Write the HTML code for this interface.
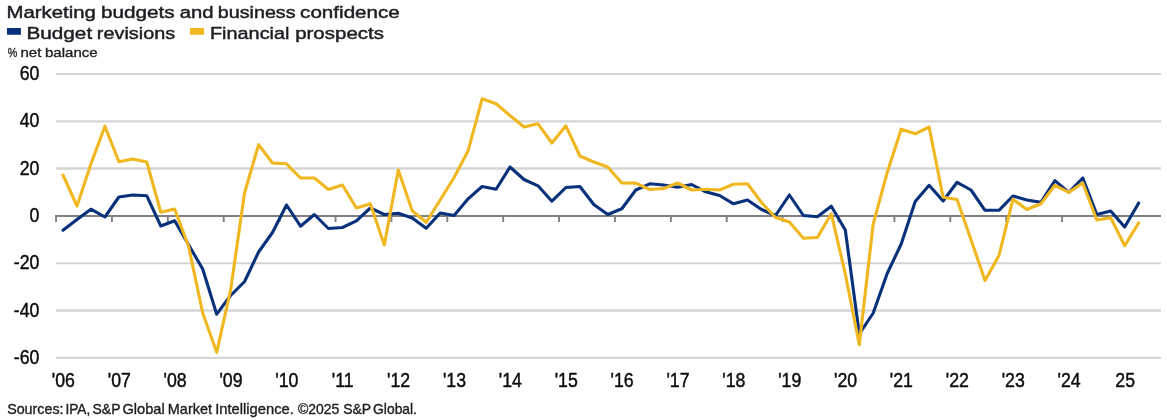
<!DOCTYPE html>
<html><head><meta charset="utf-8"><title>Marketing budgets and business confidence</title>
<style>
html,body{margin:0;padding:0;background:#fff;}
body{width:1167px;height:420px;overflow:hidden;}
svg{display:block;}
text{font-family:"Liberation Sans",Arial,sans-serif;fill:#1d1d22;}
.ax{font-size:20.9px;fill:#0c0c0c;stroke:#0c0c0c;stroke-width:0.45px;}
.t{stroke:#1d1d22;stroke-width:0.45px;}
</style></head><body>
<svg width="1167" height="420" viewBox="0 0 1167 420">
<rect width="1167" height="420" fill="#fff"/>

<line x1="56" x2="1161" y1="74.0" y2="74.0" stroke="#d5d5d5" stroke-width="2.0"/>
<line x1="56" x2="1161" y1="121.3" y2="121.3" stroke="#d5d5d5" stroke-width="2.3"/>
<line x1="56" x2="1161" y1="168.6" y2="168.6" stroke="#d5d5d5" stroke-width="2.5"/>
<line x1="56" x2="1161" y1="263.2" y2="263.2" stroke="#d5d5d5" stroke-width="2.1"/>
<line x1="56" x2="1161" y1="310.5" y2="310.5" stroke="#d5d5d5" stroke-width="2.4"/>
<line x1="56" x2="1161" y1="357.9" y2="357.9" stroke="#d5d5d5" stroke-width="2.1"/>
<line x1="55" x2="1161" y1="216.0" y2="216.0" stroke="#7f7f7f" stroke-width="1.9"/>
<line x1="56.06" x2="56.06" y1="216.0" y2="222.0" stroke="#7f7f7f" stroke-width="1.9"/>
<line x1="111.95" x2="111.95" y1="216.0" y2="222.0" stroke="#7f7f7f" stroke-width="1.9"/>
<line x1="167.84" x2="167.84" y1="216.0" y2="222.0" stroke="#7f7f7f" stroke-width="1.9"/>
<line x1="223.73" x2="223.73" y1="216.0" y2="222.0" stroke="#7f7f7f" stroke-width="1.9"/>
<line x1="279.62" x2="279.62" y1="216.0" y2="222.0" stroke="#7f7f7f" stroke-width="1.9"/>
<line x1="335.51" x2="335.51" y1="216.0" y2="222.0" stroke="#7f7f7f" stroke-width="1.9"/>
<line x1="391.40" x2="391.40" y1="216.0" y2="222.0" stroke="#7f7f7f" stroke-width="1.9"/>
<line x1="447.29" x2="447.29" y1="216.0" y2="222.0" stroke="#7f7f7f" stroke-width="1.9"/>
<line x1="503.18" x2="503.18" y1="216.0" y2="222.0" stroke="#7f7f7f" stroke-width="1.9"/>
<line x1="559.07" x2="559.07" y1="216.0" y2="222.0" stroke="#7f7f7f" stroke-width="1.9"/>
<line x1="614.96" x2="614.96" y1="216.0" y2="222.0" stroke="#7f7f7f" stroke-width="1.9"/>
<line x1="670.85" x2="670.85" y1="216.0" y2="222.0" stroke="#7f7f7f" stroke-width="1.9"/>
<line x1="726.74" x2="726.74" y1="216.0" y2="222.0" stroke="#7f7f7f" stroke-width="1.9"/>
<line x1="782.63" x2="782.63" y1="216.0" y2="222.0" stroke="#7f7f7f" stroke-width="1.9"/>
<line x1="838.52" x2="838.52" y1="216.0" y2="222.0" stroke="#7f7f7f" stroke-width="1.9"/>
<line x1="894.41" x2="894.41" y1="216.0" y2="222.0" stroke="#7f7f7f" stroke-width="1.9"/>
<line x1="950.30" x2="950.30" y1="216.0" y2="222.0" stroke="#7f7f7f" stroke-width="1.9"/>
<line x1="1006.19" x2="1006.19" y1="216.0" y2="222.0" stroke="#7f7f7f" stroke-width="1.9"/>
<line x1="1062.08" x2="1062.08" y1="216.0" y2="222.0" stroke="#7f7f7f" stroke-width="1.9"/>
<line x1="1117.97" x2="1117.97" y1="216.0" y2="222.0" stroke="#7f7f7f" stroke-width="1.9"/>
<polyline fill="none" stroke="#07317a" stroke-width="3.1" stroke-linejoin="round" stroke-linecap="round" points="63.0,230.2 77.0,219.5 90.9,209.2 104.9,217.0 118.9,197.0 132.8,195.0 146.8,195.8 160.8,226.0 174.7,220.8 188.7,245.0 202.7,269.0 216.7,314.2 230.6,295.5 244.6,281.5 258.6,252.0 272.5,232.5 286.5,205.0 300.5,226.2 314.4,214.5 328.4,228.5 342.4,227.5 356.4,220.8 370.3,208.0 384.3,214.5 398.3,213.2 412.2,218.0 426.2,228.2 440.2,213.0 454.1,215.5 468.1,198.8 482.1,186.5 496.1,189.2 510.0,167.0 524.0,179.5 538.0,185.8 551.9,201.2 565.9,187.5 579.9,186.5 593.8,204.5 607.8,214.5 621.8,208.8 635.8,190.0 649.7,183.8 663.7,185.0 677.7,187.2 691.6,184.5 705.6,191.8 719.6,195.5 733.5,203.8 747.5,200.0 761.5,209.5 775.5,215.5 789.4,195.0 803.4,215.5 817.4,216.8 831.3,206.2 845.3,230.0 859.3,334.0 873.2,313.0 887.2,273.5 901.2,244.0 915.2,201.5 929.1,185.3 943.1,201.0 957.1,182.3 971.0,190.0 985.0,210.3 999.0,210.3 1012.9,196.0 1026.9,200.0 1040.9,202.4 1054.9,180.6 1068.8,192.4 1082.8,178.0 1096.8,214.5 1110.7,211.0 1124.7,227.0 1138.7,203.0"/>
<polyline fill="none" stroke="#f0b720" stroke-width="3.1" stroke-linejoin="round" stroke-linecap="round" points="63.0,175.0 77.0,206.0 90.9,164.0 104.9,126.2 118.9,161.8 132.8,159.0 146.8,162.0 160.8,212.2 174.7,209.0 188.7,247.0 202.7,313.0 216.7,352.3 230.6,290.0 244.6,192.8 258.6,144.7 272.5,163.0 286.5,163.8 300.5,178.0 314.4,178.0 328.4,189.5 342.4,185.0 356.4,208.0 370.3,203.8 384.3,245.0 398.3,170.0 412.2,210.8 426.2,222.3 440.2,200.0 454.1,177.5 468.1,150.8 482.1,98.8 496.1,103.8 510.0,115.5 524.0,127.0 538.0,123.8 551.9,143.0 565.9,125.8 579.9,156.0 593.8,162.0 607.8,167.0 621.8,183.0 635.8,183.1 649.7,189.5 663.7,188.5 677.7,183.0 691.6,190.0 705.6,189.2 719.6,190.0 733.5,184.2 747.5,183.8 761.5,202.5 775.5,217.5 789.4,222.0 803.4,238.2 817.4,237.5 831.3,213.8 845.3,274.0 859.3,344.7 873.2,224.0 887.2,172.5 901.2,129.2 915.2,133.8 929.1,127.0 943.1,197.3 957.1,199.5 971.0,239.7 985.0,280.5 999.0,255.5 1012.9,199.2 1026.9,209.5 1040.9,203.8 1054.9,185.3 1068.8,192.4 1082.8,183.0 1096.8,220.0 1110.7,217.7 1124.7,245.7 1138.7,222.9"/>
<text class="ax" transform="translate(39.4,79.9) scale(0.848,1)" text-anchor="end">60</text>
<text class="ax" transform="translate(39.4,127.1) scale(0.848,1)" text-anchor="end">40</text>
<text class="ax" transform="translate(39.4,175.1) scale(0.848,1)" text-anchor="end">20</text>
<text class="ax" transform="translate(39.4,221.5) scale(0.848,1)" text-anchor="end">0</text>
<text class="ax" transform="translate(39.4,268.8) scale(0.848,1)" text-anchor="end">-20</text>
<text class="ax" transform="translate(39.4,316.9) scale(0.848,1)" text-anchor="end">-40</text>
<text class="ax" transform="translate(39.4,364.3) scale(0.848,1)" text-anchor="end">-60</text>
<text class="ax" transform="translate(63.4,386.9) scale(0.848,1)" text-anchor="middle">'06</text>
<text class="ax" transform="translate(119.3,386.9) scale(0.848,1)" text-anchor="middle">'07</text>
<text class="ax" transform="translate(175.1,386.9) scale(0.848,1)" text-anchor="middle">'08</text>
<text class="ax" transform="translate(231.0,386.9) scale(0.848,1)" text-anchor="middle">'09</text>
<text class="ax" transform="translate(286.9,386.9) scale(0.848,1)" text-anchor="middle">'10</text>
<text class="ax" transform="translate(342.7,386.9) scale(0.848,1)" text-anchor="middle">'11</text>
<text class="ax" transform="translate(398.6,386.9) scale(0.848,1)" text-anchor="middle">'12</text>
<text class="ax" transform="translate(454.5,386.9) scale(0.848,1)" text-anchor="middle">'13</text>
<text class="ax" transform="translate(510.4,386.9) scale(0.848,1)" text-anchor="middle">'14</text>
<text class="ax" transform="translate(566.2,386.9) scale(0.848,1)" text-anchor="middle">'15</text>
<text class="ax" transform="translate(622.1,386.9) scale(0.848,1)" text-anchor="middle">'16</text>
<text class="ax" transform="translate(678.0,386.9) scale(0.848,1)" text-anchor="middle">'17</text>
<text class="ax" transform="translate(733.8,386.9) scale(0.848,1)" text-anchor="middle">'18</text>
<text class="ax" transform="translate(789.7,386.9) scale(0.848,1)" text-anchor="middle">'19</text>
<text class="ax" transform="translate(845.6,386.9) scale(0.848,1)" text-anchor="middle">'20</text>
<text class="ax" transform="translate(901.4,386.9) scale(0.848,1)" text-anchor="middle">'21</text>
<text class="ax" transform="translate(957.3,386.9) scale(0.848,1)" text-anchor="middle">'22</text>
<text class="ax" transform="translate(1013.2,386.9) scale(0.848,1)" text-anchor="middle">'23</text>
<text class="ax" transform="translate(1069.1,386.9) scale(0.848,1)" text-anchor="middle">'24</text>
<text class="ax" transform="translate(1125.2,386.9) scale(0.848,1)" text-anchor="middle">25</text>
<text class="t" y="18.3" font-size="17.1"><tspan x="6.43" textLength="89.38" lengthAdjust="spacingAndGlyphs">Marketing</tspan> <tspan x="100.96" textLength="73.79" lengthAdjust="spacingAndGlyphs">budgets</tspan> <tspan x="179.84" textLength="33.76" lengthAdjust="spacingAndGlyphs">and</tspan> <tspan x="217.83" textLength="77.68" lengthAdjust="spacingAndGlyphs">business</tspan> <tspan x="300.12" textLength="99.69" lengthAdjust="spacingAndGlyphs">confidence</tspan></text>
<rect x="7" y="28" width="13.9" height="6.8" fill="#07317a"/>
<text class="t" y="39.1" font-size="17.1"><tspan x="26.5" textLength="65.65" lengthAdjust="spacingAndGlyphs">Budget</tspan> <tspan x="96.88" textLength="78.23" lengthAdjust="spacingAndGlyphs">revisions</tspan></text>
<rect x="190" y="28" width="14" height="6.8" fill="#f0b720"/>
<text class="t" y="39.1" font-size="17.1"><tspan x="209.97" textLength="79.46" lengthAdjust="spacingAndGlyphs">Financial</tspan> <tspan x="295.18" textLength="88.76" lengthAdjust="spacingAndGlyphs">prospects</tspan></text>
<text style="stroke:#1d1d22;stroke-width:0.35px" y="56.9" font-size="13.7"><tspan x="7.72" textLength="9.57" lengthAdjust="spacingAndGlyphs">%</tspan> <tspan x="20.5" textLength="20.91" lengthAdjust="spacingAndGlyphs">net</tspan> <tspan x="45.03" textLength="52.64" lengthAdjust="spacingAndGlyphs">balance</tspan></text>
<text style="stroke:#1d1d22;stroke-width:0.35px" y="414.1" font-size="14.4"><tspan x="7.15" textLength="56.35" lengthAdjust="spacingAndGlyphs">Sources:</tspan> <tspan x="65.43" textLength="24.9" lengthAdjust="spacingAndGlyphs">IPA,</tspan> <tspan x="92.57" textLength="27.66" lengthAdjust="spacingAndGlyphs">S&amp;P</tspan> <tspan x="122.46" textLength="42.32" lengthAdjust="spacingAndGlyphs">Global</tspan> <tspan x="167.81" textLength="44.19" lengthAdjust="spacingAndGlyphs">Market</tspan> <tspan x="215.24" textLength="78.61" lengthAdjust="spacingAndGlyphs">Intelligence.</tspan> <tspan x="297.89" textLength="41.5" lengthAdjust="spacingAndGlyphs">©2025</tspan> <tspan x="343.17" textLength="27.66" lengthAdjust="spacingAndGlyphs">S&amp;P</tspan> <tspan x="373.1" textLength="43.86" lengthAdjust="spacingAndGlyphs">Global.</tspan></text>
</svg></body></html>
